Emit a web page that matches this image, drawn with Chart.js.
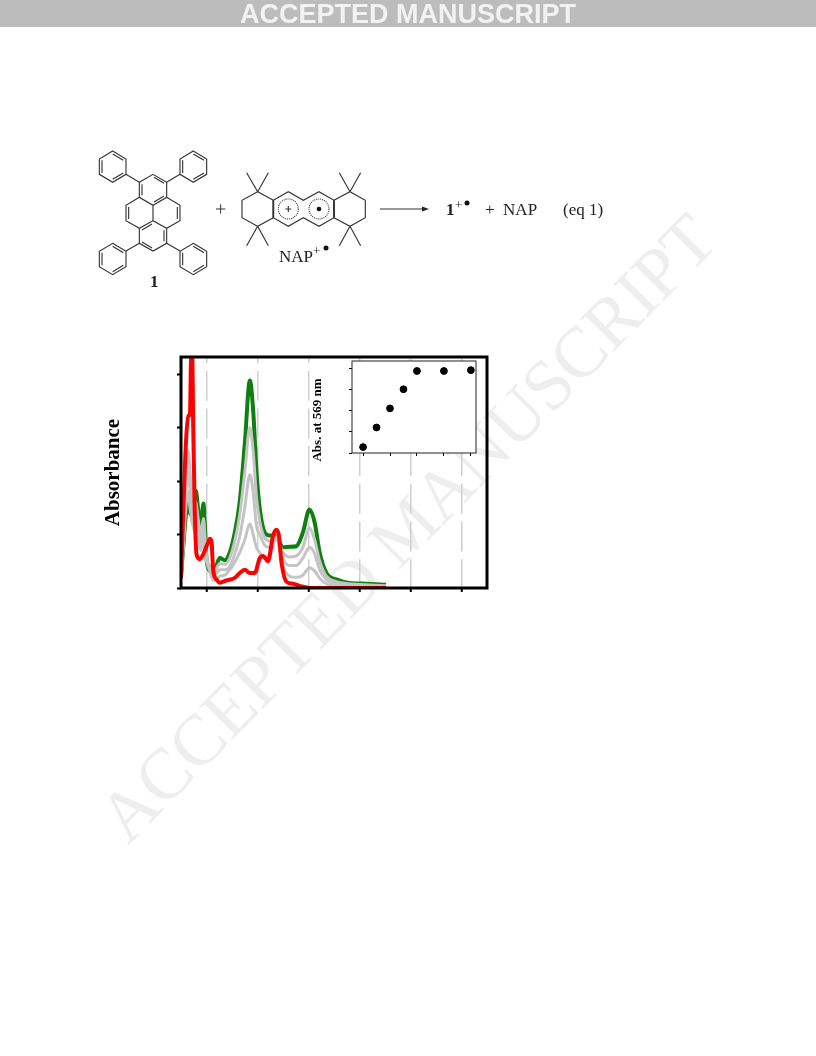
<!DOCTYPE html>
<html>
<head>
<meta charset="utf-8">
<title>Absorbance</title>
<script src="https://cdn.jsdelivr.net/npm/chart.js@4"></script>
<style>
  body { margin: 0; background: #fff; width: 816px; height: 1056px; position: relative; overflow: hidden; font-family: "Liberation Serif", serif; }
  .abs { position: absolute; left: 0; top: 0; }
  #bar { position: absolute; left: 0; top: 0; width: 816px; height: 27px; background: #bcbcbc; color: #f2f2f2; font: bold 27px/28px "Liberation Sans", sans-serif; text-align: center; }
  #insetTitle { position: absolute; left: 317px; top: 420px; font: bold 13px "Liberation Serif", serif; white-space: nowrap; transform: translate(-50%, -50%) rotate(-90deg); }
</style>
</head>
<body>
<svg class="abs" width="816" height="1056">
  <text x="0" y="0" transform="translate(128,846) rotate(-45.5)" font-family="Liberation Serif" font-size="72" fill="#eeeeee" textLength="845">ACCEPTED MANUSCRIPT</text>
</svg>

<canvas id="mainChart" class="abs" width="816" height="1056"></canvas>
<canvas id="insetChart" style="position:absolute;left:320px;top:350px" width="170" height="115"></canvas>
<div id="insetTitle">Abs. at 569 nm</div>

<svg class="abs" width="816" height="1056">
  <defs>
    <g id="phenyl" fill="none" stroke="#333" stroke-width="3.4">
      <path d="M0,-47 L40,-23 L40,23 L0,47 L-40,23 L-40,-23 Z"/>
      <path d="M0,-38 L32,-19 M32,19 L0,38 M-32,19 L-32,-19"/>
    </g>
  </defs>
  <!-- scheme, in the coordinates of the 3x crop -->
  <g transform="translate(90,140) scale(0.3333)" fill="none" stroke="#333" stroke-width="3.4">
    <use href="#phenyl" x="68" y="80"/>
    <use href="#phenyl" x="310" y="80"/>
    <use href="#phenyl" x="68" y="357"/>
    <use href="#phenyl" x="310" y="357"/>
    <path d="M108,103 L148,127 M270,103 L230,127 M148,310 L108,333 M230,310 L270,333"/>
    <path d="M148,127 L189,103 L230,127 L230,172 L189,196 L148,172 Z"/>
    <path d="M148,172 L108,196 L108,242 L148,265 L189,242 L189,196"/>
    <path d="M230,172 L270,196 L270,242 L230,265 L189,242"/>
    <path d="M148,265 L148,310 L189,333 L230,310 L230,265"/>
    <path d="M156,133 L156,166 M192,112 L222,130 M222,168 L192,186 M116,201 L116,237 M262,201 L262,237 M222,271 L222,304 M156,306 L186,324 M156,270 L186,252"/>
    <path d="M550,181 L595,155 L640,181 L687,155 L732,181 L732,233 L687,259 L640,233 L595,259 L550,233 Z"/>
    <path d="M550,181 L503,155 L456,181 L456,233 L503,259 L550,233 M732,181 L780,155 L826,181 L826,233 L780,259 L732,233"/>
    <path d="M550,181 L550,233 M732,181 L732,233" stroke-width="5.5"/>
    <path d="M503,155 L470,98 M503,155 L535,98 M503,259 L470,317 M503,259 L535,317 M780,155 L748,98 M780,155 L812,98 M780,259 L748,317 M780,259 L812,317"/>
    <circle cx="595" cy="207" r="30" stroke-dasharray="3 3"/>
    <circle cx="687" cy="207" r="30" stroke-dasharray="3 3"/>
    <path d="M586,207 L604,207 M595,198 L595,216"/>
    <circle cx="687" cy="207" r="7" fill="#111" stroke="none"/>
    <path d="M378,207 L406,207 M392,193 L392,221" stroke-width="3"/>
  </g>
  <g font-family="Liberation Serif" font-size="17" fill="#222">
    <text x="150" y="287" font-weight="bold">1</text>
    <text x="279" y="262">NAP</text>
    <text x="313" y="255" font-size="13">+</text>
    <circle cx="326" cy="248" r="2.5" fill="#111"/>
    <text x="446" y="215" font-weight="bold">1</text>
    <text x="455" y="209" font-size="13">+</text>
    <circle cx="467" cy="203" r="2.5" fill="#111"/>
    <text x="485" y="215">+&#160;&#160;NAP</text>
    <text x="563" y="215">(eq 1)</text>
  </g>
  <path d="M380,209 L424,209" stroke="#333" stroke-width="1.2"/>
  <path d="M429,209 L422,206.5 L422,211.5 Z" fill="#222"/>
</svg>
<div id="bar">ACCEPTED MANUSCRIPT</div>

<script>
// main spectra, wavelength in nm against absorbance
const greenNm = [300, 309, 319, 328, 337, 345, 358, 367, 377, 388, 395, 400, 413, 426, 439, 452, 472, 491, 511, 530, 550, 570, 583, 596, 609, 628, 648, 674, 700, 726, 752, 778, 804, 824, 844, 870, 909, 961, 1026, 1104];
const greenAbs = [0.11, 0.39, 0.68, 0.80, 0.69, 0.70, 0.91, 0.74, 0.54, 0.79, 0.52, 0.27, 0.16, 0.13, 0.21, 0.28, 0.26, 0.33, 0.52, 0.80, 1.34, 1.94, 1.66, 1.09, 0.74, 0.52, 0.49, 0.48, 0.38, 0.385, 0.39, 0.52, 0.735, 0.615, 0.33, 0.14, 0.08, 0.047, 0.04, 0.03];
const gray1Abs = [0.10, 0.45, 0.95, 1.28, 1.05, 0.85, 0.80, 0.65, 0.50, 0.65, 0.45, 0.30, 0.20, 0.14, 0.18, 0.23, 0.22, 0.28, 0.44, 0.68, 1.08, 1.50, 1.28, 0.85, 0.62, 0.47, 0.44, 0.47, 0.33, 0.29, 0.30, 0.38, 0.56, 0.45, 0.25, 0.11, 0.06, 0.04, 0.03, 0.02];
const gray2Abs = [0.10, 0.42, 0.85, 1.08, 0.88, 0.72, 0.65, 0.55, 0.42, 0.55, 0.38, 0.27, 0.18, 0.10, 0.13, 0.17, 0.17, 0.20, 0.32, 0.48, 0.75, 1.06, 0.90, 0.58, 0.50, 0.40, 0.38, 0.48, 0.27, 0.21, 0.21, 0.28, 0.38, 0.32, 0.17, 0.08, 0.04, 0.03, 0.02, 0.015];
const gray3Abs = [0.09, 0.40, 0.75, 0.90, 0.72, 0.60, 0.50, 0.45, 0.35, 0.45, 0.33, 0.25, 0.16, 0.07, 0.08, 0.11, 0.12, 0.17, 0.24, 0.33, 0.45, 0.60, 0.50, 0.38, 0.33, 0.28, 0.31, 0.46, 0.20, 0.11, 0.10, 0.12, 0.19, 0.16, 0.09, 0.04, 0.02, 0.01, 0.01, 0.01];
const redNm = [300, 309, 319, 328, 335, 339, 343, 348, 354, 361, 374, 387, 400, 407, 413, 420, 426, 439, 452, 478, 511, 530, 550, 570, 589, 609, 622, 641, 661, 674, 684, 694, 713, 739, 765, 804, 870, 1104];
const redAbs = [0.09, 0.71, 1.34, 1.61, 1.62, 2.10, 2.30, 1.50, 0.71, 0.315, 0.27, 0.315, 0.39, 0.43, 0.46, 0.43, 0.17, 0.08, 0.05, 0.07, 0.095, 0.14, 0.17, 0.14, 0.14, 0.28, 0.30, 0.25, 0.49, 0.545, 0.49, 0.24, 0.06, 0.04, 0.02, 0, 0, 0];
const xTicks = [400, 600, 800, 1000, 1200, 1400];
const yTicks = [0, 0.5, 1, 1.5, 2];

// inset, titration points
const insetX = [0, 0.5, 1, 1.5, 2, 3, 4];
const insetY = [0.028, 0.12, 0.21, 0.30, 0.386, 0.386, 0.39];
const insetXTicks = [0, 1, 2, 3, 4];
const insetYTicks = [0, 0.1, 0.2, 0.3, 0.4];

const pairs = (xs, ys) => xs.map((x, i) => ({ x: x, y: ys[i] }));

function line(xs, ys, color, width) {
  return {
    data: pairs(xs, ys),
    borderColor: color,
    borderWidth: width,
    pointRadius: 0,
    cubicInterpolationMode: "monotone"
  };
}

// Chart.js has no closed box around the plot, so stroke it from chartArea
const frame = {
  id: "frame",
  beforeDatasetsDraw(chart, args, opts) {
    if (opts.fill) {
      const a = chart.chartArea;
      chart.ctx.fillStyle = opts.fill;
      chart.ctx.fillRect(a.left, a.top, a.width, a.height);
    }
  },
  afterDraw(chart, args, opts) {
    const a = chart.chartArea;
    const ctx = chart.ctx;
    ctx.save();
    ctx.strokeStyle = opts.color;
    ctx.lineWidth = opts.width;
    ctx.strokeRect(a.left, a.top, a.width, a.height);
    ctx.restore();
  }
};

new Chart(document.getElementById("mainChart"), {
  type: "line",
  data: {
    datasets: [
      line(redNm, redAbs, "#ff0000", 4),
      line(greenNm, gray3Abs, "#c4c4c4", 3),
      line(greenNm, gray2Abs, "#c4c4c4", 3),
      line(greenNm, gray1Abs, "#c4c4c4", 3),
      line(greenNm, greenAbs, "#0f800f", 4)
    ]
  },
  options: {
    responsive: false,
    animation: false,
    layout: { padding: { left: 101, top: 357, right: 329, bottom: 460 } },
    plugins: { legend: { display: false }, tooltip: { enabled: false }, frame: { color: "#000", width: 3 } },
    scales: {
      x: {
        type: "linear",
        min: 300,
        max: 1500,
        afterBuildTicks(axis) { axis.ticks = xTicks.map(v => ({ value: v })); },
        afterFit(axis) { axis.height = 8; },
        ticks: { display: false },
        border: { display: false, dash: [30, 7.7], dashOffset: 24 },
        grid: { color: "#cfcfcf", lineWidth: 1.5, tickColor: "#000", tickWidth: 2, tickLength: 4, tickBorderDash: [] }
      },
      y: {
        min: 0,
        max: 2.16,
        afterBuildTicks(axis) { axis.ticks = yTicks.map(v => ({ value: v })); },
        afterFit(axis) { axis.width = 80; },
        ticks: { display: false },
        border: { display: false },
        grid: { drawOnChartArea: false, tickColor: "#000", tickWidth: 2, tickLength: 4 },
        title: { display: true, text: "Absorbance", color: "#000", padding: 0, font: { family: "Liberation Serif", size: 21, weight: "bold" } }
      }
    }
  },
  plugins: [frame]
});

new Chart(document.getElementById("insetChart"), {
  type: "scatter",
  data: {
    datasets: [{
      data: pairs(insetX, insetY),
      backgroundColor: "#000",
      borderColor: "#000",
      pointRadius: 3.4
    }]
  },
  options: {
    responsive: false,
    animation: false,
    layout: { padding: { left: 24, top: 11, right: 14, bottom: 6 } },
    plugins: { legend: { display: false }, tooltip: { enabled: false }, frame: { color: "#222", width: 1, fill: "#fff" } },
    scales: {
      x: {
        type: "linear",
        min: -0.41,
        max: 4.19,
        afterBuildTicks(axis) { axis.ticks = insetXTicks.map(v => ({ value: v })); },
        afterFit(axis) { axis.height = 6; },
        ticks: { display: false },
        border: { display: false, dash: [2, 2] },
        grid: { color: "#b8b8b8", lineWidth: 1, tickColor: "#000", tickWidth: 1, tickLength: 3, tickBorderDash: [] }
      },
      y: {
        min: 0,
        max: 0.433,
        afterBuildTicks(axis) { axis.ticks = insetYTicks.map(v => ({ value: v })); },
        afterFit(axis) { axis.width = 8; },
        ticks: { display: false },
        border: { display: false },
        grid: { drawOnChartArea: false, tickColor: "#000", tickWidth: 1, tickLength: 3 }
      }
    }
  },
  plugins: [frame]
});
</script>
</body>
</html>
